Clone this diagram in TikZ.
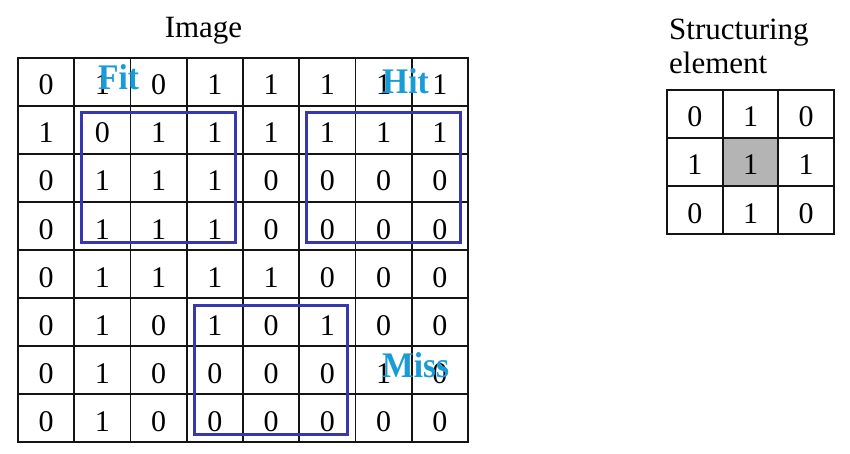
\documentclass[tikz,border=0pt]{standalone}
\usepackage{fontspec}
\setmainfont{Liberation Serif}
\newfontfamily\labelfont[FakeStretch=0.93]{Liberation Serif Bold}
\usetikzlibrary{calc}
\definecolor{gridline}{RGB}{20,20,20}
\definecolor{selblue}{RGB}{55,55,175}
\definecolor{labcyan}{RGB}{25,155,215}
\definecolor{segray}{RGB}{180,180,180}
\tikzset{
  cell/.style={draw=gridline, line width=1.9pt, minimum width=56.25pt, minimum height=48pt,
    inner sep=0pt, outer sep=0pt, text height=26pt, text depth=0pt, font=\fontsize{30}{34}\selectfont},
  secell/.style={cell, minimum width=55.67pt},
  selbox/.style={draw=selblue, line width=3pt},
  hmlabel/.style={anchor=base west, inner sep=0pt, text=labcyan, font=\fontsize{36}{40}\labelfont},
  titletext/.style={inner sep=0pt, font=\fontsize{31}{34}\selectfont},
}
\begin{document}
\begin{tikzpicture}[x=1pt,y=-1pt]
\useasboundingbox[fill=white] (0,0) rectangle (850,454);
% image grid
\foreach \vals [count=\r from 0] in {{0,1,0,1,1,1,1,1},{1,0,1,1,1,1,1,1},{0,1,1,1,0,0,0,0},{0,1,1,1,0,0,0,0},{0,1,1,1,1,0,0,0},{0,1,0,1,0,1,0,0},{0,1,0,0,0,0,1,0},{0,1,0,0,0,0,0,0}}{
  \foreach \v [count=\c from 0] in \vals {
    \node[cell] (img-\r-\c) at ({46.125+56.25*\c},{82+48*\r}) {\v};
  }
}
% structuring element
\foreach \vals [count=\r from 0] in {{0,1,0},{1,1,1},{0,1,0}}{
  \foreach \v [count=\c from 0] in \vals {
    \ifnum\r\c=11 \def\sefill{segray}\else\def\sefill{white}\fi
    \node[secell, fill=\sefill] (se-\r-\c) at ({694.83+55.67*\c},{114+48*\r}) {\v};
  }
}
% selection boxes
\draw[selbox] ($(img-1-1.north west)+(7,7)$) rectangle ($(img-3-3.south east)+(-8,-8)$);
\draw[selbox] ($(img-1-5.north west)+(6.75,7)$) rectangle ($(img-3-7.south east)+(-8,-8)$);
\draw[selbox] ($(img-5-3.north west)+(8,7)$) rectangle ($(img-7-5.south east)+(-8.5,-8)$);
% titles
\node[titletext, anchor=base] (imgtitle) at (203.5,38) {Image};
\node[titletext, anchor=base west] (sttitle1) at (669,40) {Structuring};
\node[titletext, anchor=base west] (sttitle2) at (669,74) {element};
% labels
\node[hmlabel] (fitlab) at (98,90) {Fit};
\node[hmlabel] (hitlab) at (382,94) {Hit};
\node[hmlabel] (misslab) at (382,377) {Miss};
\end{tikzpicture}
\end{document}
